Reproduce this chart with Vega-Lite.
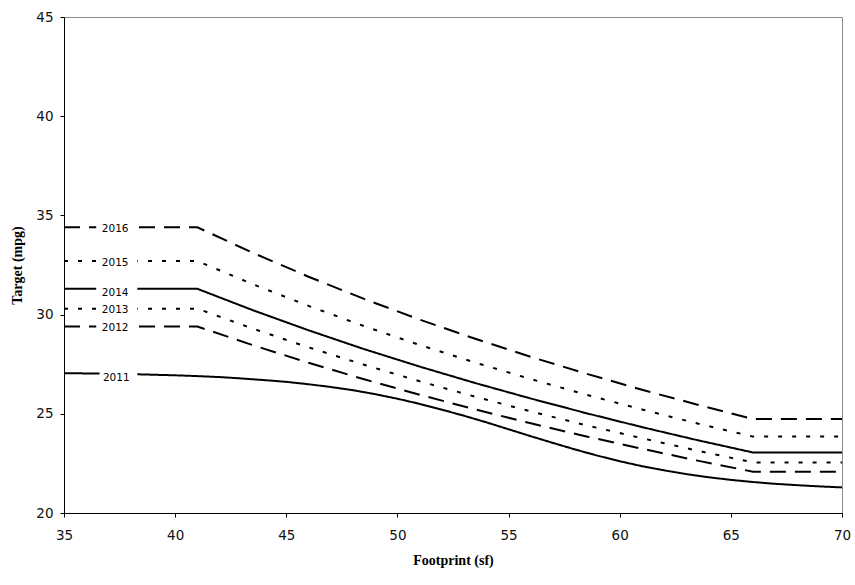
{
  "$schema": "https://vega.github.io/schema/vega-lite/v6.json",
  "width": 778,
  "height": 496,
  "autosize": "none",
  "padding": {"left": 64, "top": 17, "right": 13, "bottom": 72},
  "background": "white",
  "config": {
    "view": {"stroke": "#8c8c8c", "strokeWidth": 1},
    "axis": {
      "grid": false,
      "domainColor": "black",
      "tickColor": "black",
      "tickSize": 4,
      "labelFont": "DejaVu Sans",
      "labelFontSize": 13.5,
      "labelColor": "#111",
      "labelFlush": false,
      "titleFont": "Liberation Serif",
      "titleFontSize": 14,
      "titleFontWeight": "bold",
      "titleColor": "black"
    }
  },
  "datasets": {
    "lines": [
      {"year": "2016", "fp": 35, "mpg": 34.4}, {"year": "2016", "fp": 41, "mpg": 34.4}, {"year": "2016", "fp": 43.5, "mpg": 33.11}, {"year": "2016", "fp": 46, "mpg": 31.91}, {"year": "2016", "fp": 48.5, "mpg": 30.79}, {"year": "2016", "fp": 51, "mpg": 29.75}, {"year": "2016", "fp": 53.5, "mpg": 28.78}, {"year": "2016", "fp": 56, "mpg": 27.87}, {"year": "2016", "fp": 58.5, "mpg": 27.02}, {"year": "2016", "fp": 61, "mpg": 26.21}, {"year": "2016", "fp": 63.5, "mpg": 25.46}, {"year": "2016", "fp": 66, "mpg": 24.74}, {"year": "2016", "fp": 70, "mpg": 24.74},
      {"year": "2015", "fp": 35, "mpg": 32.7}, {"year": "2015", "fp": 41, "mpg": 32.7}, {"year": "2015", "fp": 43.5, "mpg": 31.53}, {"year": "2015", "fp": 46, "mpg": 30.44}, {"year": "2015", "fp": 48.5, "mpg": 29.42}, {"year": "2015", "fp": 51, "mpg": 28.47}, {"year": "2015", "fp": 53.5, "mpg": 27.58}, {"year": "2015", "fp": 56, "mpg": 26.75}, {"year": "2015", "fp": 58.5, "mpg": 25.96}, {"year": "2015", "fp": 61, "mpg": 25.22}, {"year": "2015", "fp": 63.5, "mpg": 24.51}, {"year": "2015", "fp": 66, "mpg": 23.85}, {"year": "2015", "fp": 70, "mpg": 23.85},
      {"year": "2014", "fp": 35, "mpg": 31.3}, {"year": "2014", "fp": 41, "mpg": 31.3}, {"year": "2014", "fp": 43.5, "mpg": 30.22}, {"year": "2014", "fp": 46, "mpg": 29.21}, {"year": "2014", "fp": 48.5, "mpg": 28.26}, {"year": "2014", "fp": 51, "mpg": 27.38}, {"year": "2014", "fp": 53.5, "mpg": 26.55}, {"year": "2014", "fp": 56, "mpg": 25.77}, {"year": "2014", "fp": 58.5, "mpg": 25.03}, {"year": "2014", "fp": 61, "mpg": 24.33}, {"year": "2014", "fp": 63.5, "mpg": 23.67}, {"year": "2014", "fp": 66, "mpg": 23.05}, {"year": "2014", "fp": 70, "mpg": 23.05},
      {"year": "2013", "fp": 35, "mpg": 30.3}, {"year": "2013", "fp": 41, "mpg": 30.3}, {"year": "2013", "fp": 43.5, "mpg": 29.29}, {"year": "2013", "fp": 46, "mpg": 28.35}, {"year": "2013", "fp": 48.5, "mpg": 27.47}, {"year": "2013", "fp": 51, "mpg": 26.64}, {"year": "2013", "fp": 53.5, "mpg": 25.86}, {"year": "2013", "fp": 56, "mpg": 25.12}, {"year": "2013", "fp": 58.5, "mpg": 24.42}, {"year": "2013", "fp": 61, "mpg": 23.77}, {"year": "2013", "fp": 63.5, "mpg": 23.14}, {"year": "2013", "fp": 66, "mpg": 22.55}, {"year": "2013", "fp": 70, "mpg": 22.55},
      {"year": "2012", "fp": 35, "mpg": 29.4}, {"year": "2012", "fp": 41, "mpg": 29.4}, {"year": "2012", "fp": 43.5, "mpg": 28.46}, {"year": "2012", "fp": 46, "mpg": 27.57}, {"year": "2012", "fp": 48.5, "mpg": 26.74}, {"year": "2012", "fp": 51, "mpg": 25.96}, {"year": "2012", "fp": 53.5, "mpg": 25.22}, {"year": "2012", "fp": 56, "mpg": 24.52}, {"year": "2012", "fp": 58.5, "mpg": 23.86}, {"year": "2012", "fp": 61, "mpg": 23.24}, {"year": "2012", "fp": 63.5, "mpg": 22.64}, {"year": "2012", "fp": 66, "mpg": 22.08}, {"year": "2012", "fp": 70, "mpg": 22.08},
      {"year": "2011", "fp": 35, "mpg": 27.05}, {"year": "2011", "fp": 37, "mpg": 27.02}, {"year": "2011", "fp": 38, "mpg": 27.0}, {"year": "2011", "fp": 39, "mpg": 26.97}, {"year": "2011", "fp": 40, "mpg": 26.94}, {"year": "2011", "fp": 41, "mpg": 26.9}, {"year": "2011", "fp": 42, "mpg": 26.85}, {"year": "2011", "fp": 43, "mpg": 26.78}, {"year": "2011", "fp": 44, "mpg": 26.7}, {"year": "2011", "fp": 45, "mpg": 26.61}, {"year": "2011", "fp": 46, "mpg": 26.49}, {"year": "2011", "fp": 47, "mpg": 26.35}, {"year": "2011", "fp": 48, "mpg": 26.19}, {"year": "2011", "fp": 49, "mpg": 25.99}, {"year": "2011", "fp": 50, "mpg": 25.76}, {"year": "2011", "fp": 51, "mpg": 25.5}, {"year": "2011", "fp": 52, "mpg": 25.21}, {"year": "2011", "fp": 53, "mpg": 24.9}, {"year": "2011", "fp": 54, "mpg": 24.57}, {"year": "2011", "fp": 55, "mpg": 24.22}, {"year": "2011", "fp": 56, "mpg": 23.87}, {"year": "2011", "fp": 57, "mpg": 23.53}, {"year": "2011", "fp": 58, "mpg": 23.2}, {"year": "2011", "fp": 59, "mpg": 22.89}, {"year": "2011", "fp": 60, "mpg": 22.61}, {"year": "2011", "fp": 61, "mpg": 22.36}, {"year": "2011", "fp": 62, "mpg": 22.15}, {"year": "2011", "fp": 63, "mpg": 21.96}, {"year": "2011", "fp": 64, "mpg": 21.8}, {"year": "2011", "fp": 65, "mpg": 21.67}, {"year": "2011", "fp": 66, "mpg": 21.56}, {"year": "2011", "fp": 67, "mpg": 21.47}, {"year": "2011", "fp": 68, "mpg": 21.4}, {"year": "2011", "fp": 69, "mpg": 21.34}, {"year": "2011", "fp": 70, "mpg": 21.29}
    ],
    "labels": [
      {"year": "2016", "x1": 36.45, "x2": 38.3, "lo": 34.1, "hi": 34.7, "lx": 37.3, "ly": 34.3},
      {"year": "2015", "x1": 36.45, "x2": 38.3, "lo": 32.4, "hi": 33.0, "lx": 37.3, "ly": 32.6},
      {"year": "2014", "x1": 36.45, "x2": 38.3, "lo": 30.9, "hi": 31.5, "lx": 37.3, "ly": 31.07},
      {"year": "2013", "x1": 36.45, "x2": 38.3, "lo": 30.0, "hi": 30.55, "lx": 37.3, "ly": 30.25},
      {"year": "2012", "x1": 36.45, "x2": 38.3, "lo": 29.1, "hi": 29.65, "lx": 37.3, "ly": 29.34},
      {"year": "2011", "x1": 36.6, "x2": 38.3, "lo": 26.6, "hi": 27.3, "lx": 37.35, "ly": 26.78}
    ]
  },
  "layer": [
    {
      "data": {"name": "lines"},
      "mark": {"type": "line", "color": "black", "strokeWidth": 2},
      "encoding": {
        "x": {"field": "fp", "type": "quantitative", "scale": {"domain": [35, 70], "nice": false}, "axis": {"title": "Footprint (sf)", "values": [35, 40, 45, 50, 55, 60, 65, 70], "labelPadding": 11, "titlePadding": 12}},
        "y": {"field": "mpg", "type": "quantitative", "scale": {"domain": [20, 45], "nice": false, "zero": false}, "axis": {"title": "Target (mpg)", "values": [20, 25, 30, 35, 40, 45], "labelPadding": 7, "titlePadding": 11}},
        "detail": {"field": "year"},
        "strokeDash": {"field": "year", "type": "nominal", "legend": null, "scale": {"domain": ["2011", "2012", "2013", "2014", "2015", "2016"], "range": [[1, 0], [16, 9], [4, 10], [1, 0], [4, 10], [16, 9]]}}
      }
    },
    {
      "data": {"name": "labels"},
      "mark": {"type": "rect", "fill": "white"},
      "encoding": {
        "x": {"field": "x1", "type": "quantitative"},
        "x2": {"field": "x2"},
        "y": {"field": "lo", "type": "quantitative"},
        "y2": {"field": "hi"}
      }
    },
    {
      "data": {"name": "labels"},
      "mark": {"type": "text", "font": "DejaVu Sans", "fontSize": 10.5, "color": "black", "align": "center", "baseline": "middle"},
      "encoding": {
        "x": {"field": "lx", "type": "quantitative"},
        "y": {"field": "ly", "type": "quantitative"},
        "text": {"field": "year"}
      }
    }
  ]
}
